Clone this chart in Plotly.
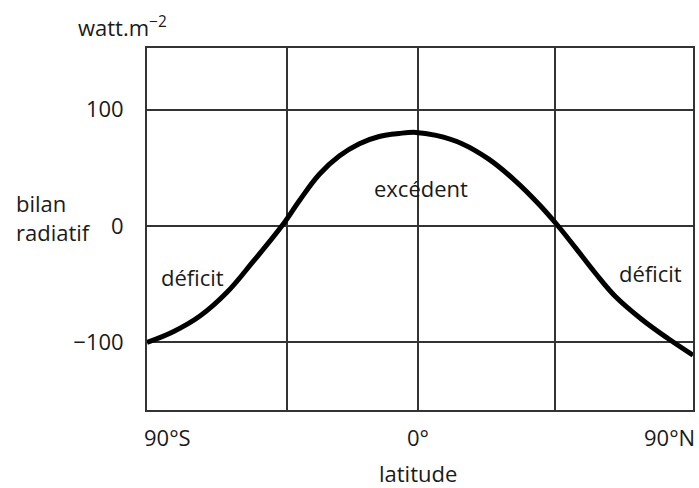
import plotly.graph_objects as go

latitude = [-90, -81.3, -72.4, -63.5, -54.9, -45.2, -39.3, -32.7, -26.1, -19.4, -12.8, -6.2, -0.6,
            6.1, 14.7, 23.6, 32.6, 40.2, 46.1, 52.4, 59.0, 65.7, 74.3, 83.2, 91.5]
bilan = [-100, -90.8, -77.3, -57.1, -31, 0, 22, 44.5, 60.2, 70.8, 77.0, 79.6, 80.5,
         77.9, 70.8, 57.5, 38.5, 19, 1.8, -18.5, -40.3, -60.5, -79.8, -96.6, -110.9]

y_ticks = [-100, 0, 100]
y_labels = ["−100", "0", "100"]
x_grid = [-43.5, 0, 45.5]
x_tick_pos = [-90, 0, 91.5]
x_tick_text = ["90°S", "0°", "90°N"]

FONT = "Open Sans"
FS = 22
INK = "#1a1a1a"

fig = go.Figure()
fig.add_trace(go.Scatter(x=latitude, y=bilan, mode="lines",
                         line=dict(color="black", width=5, shape="spline", smoothing=1.1),
                         hoverinfo="skip", showlegend=False))

fig.update_layout(
    width=699, height=488,
    margin=dict(l=147, r=4, t=48, b=78),
    paper_bgcolor="white", plot_bgcolor="white",
    font=dict(family=FONT, size=FS, color=INK),
    showlegend=False,
)
fig.update_xaxes(range=[-90, 91.5], tickvals=x_grid, ticktext=["", "", ""],
                 showgrid=True, gridcolor="#333", gridwidth=1.5, zeroline=False,
                 showline=True, linecolor="#333", linewidth=1.8, mirror=True, ticks="")
fig.update_yaxes(range=[-158, 153], tickvals=y_ticks, ticktext=y_labels,
                 showgrid=True, gridcolor="#333", gridwidth=1.5, zeroline=False,
                 showline=True, linecolor="#333", linewidth=1.8, mirror=True,
                 ticks="outside", ticklen=17, tickcolor="rgba(0,0,0,0)",
                 tickfont=dict(family=FONT, size=FS, color=INK))

anns = []
xanchors = ["left", "center", "right"]
shifts = [-5, 0, 4]
for xp, txt, xa, sh in zip(x_tick_pos, x_tick_text, xanchors, shifts):
    anns.append(dict(x=xp, y=0, xref="x", yref="paper", text=txt, showarrow=False,
                     xanchor=xa, yanchor="middle", yshift=-27, xshift=sh))
anns.append(dict(x=0, y=0, xref="x", yref="paper", text="latitude", showarrow=False,
                 xanchor="center", yanchor="middle", yshift=-63))
anns.append(dict(x=0, y=1, xref="paper", yref="paper", text="watt.m<sup>−2</sup>",
                 showarrow=False, xanchor="left", yanchor="middle", xshift=-71, yshift=22))
anns.append(dict(x=0, y=7, xref="paper", yref="y", text="bilan<br>radiatif",
                 showarrow=False, xanchor="left", yanchor="middle", align="left",
                 xshift=-133))
anns.append(dict(x=1, y=33, xref="x", yref="y", text="excédent", showarrow=False,
                 xanchor="center", yanchor="middle"))
anns.append(dict(x=-74.8, y=-43.8, xref="x", yref="y", text="déficit", showarrow=False,
                 xanchor="center", yanchor="middle"))
anns.append(dict(x=77.3, y=-40.4, xref="x", yref="y", text="déficit", showarrow=False,
                 xanchor="center", yanchor="middle"))
fig.update_layout(annotations=anns)

fig.write_html("out.html", config={"displayModeBar": False},
               post_script="document.body.style.margin='0px';")
